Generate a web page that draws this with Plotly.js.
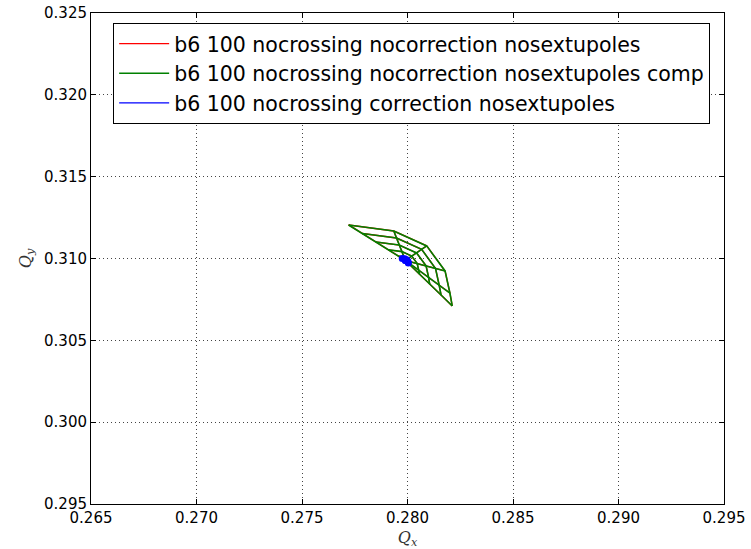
<!DOCTYPE html>
<html>
<head>
<meta charset="utf-8">
<script src="https://cdn.plot.ly/plotly-3.0.1.min.js"></script>
<style>html,body{margin:0;padding:0;background:#fff;}#chart{width:751px;height:549px;}</style>
</head>
<body>
<div id="chart"></div>
<script>
// Series names
const seriesNames = [
  "b6 100 nocrossing nocorrection nosextupoles",
  "b6 100 nocrossing nocorrection nosextupoles comp",
  "b6 100 nocrossing correction nosextupoles"
];

// Footprint origin (small amplitude tune)
const originQx = 0.27990;
const originQy = 0.30988;

// Footprint mesh: each amplitude ring, points across 6 angles
const qxRing1 = [0.27958, 0.27983, 0.28002, 0.28013, 0.28015, 0.28017];
const qyRing1 = [0.31014, 0.31010, 0.30999, 0.30980, 0.30964, 0.30955];
const qxRing2 = [0.27909, 0.27974, 0.28020, 0.28046, 0.28053, 0.28057];
const qyRing2 = [0.31053, 0.31042, 0.31015, 0.30969, 0.30928, 0.30905];
const qxRing3 = [0.27850, 0.27961, 0.28043, 0.28088, 0.28100, 0.28105];
const qyRing3 = [0.31101, 0.31082, 0.31034, 0.30955, 0.30885, 0.30843];
const qxRing4 = [0.27786, 0.27948, 0.28067, 0.28133, 0.28150, 0.28159];
const qyRing4 = [0.31153, 0.31125, 0.31056, 0.30939, 0.30837, 0.30777];
const qxRing5 = [0.27721, 0.27935, 0.28091, 0.28178, 0.28201, 0.28212];
const qyRing5 = [0.31205, 0.31168, 0.31077, 0.30924, 0.30789, 0.30710];

// Corrected case: tiny footprint
const qxCorr = [0.27990, 0.27975, 0.27987, 0.27996, 0.28001, 0.28003, 0.28004, 0.27990];
const qyCorr = [0.30988, 0.31000, 0.30998, 0.30992, 0.30984, 0.30977, 0.30972, 0.30988];

// Axis ticks
const tickVals = [0.265, 0.270, 0.275, 0.280, 0.285, 0.290, 0.295];
const yTickVals = [0.295, 0.300, 0.305, 0.310, 0.315, 0.320, 0.325];

function buildMesh() {
  const rx = [qxRing1, qxRing2, qxRing3, qxRing4, qxRing5];
  const ry = [qyRing1, qyRing2, qyRing3, qyRing4, qyRing5];
  const xs = [], ys = [];
  const nA = qxRing1.length;
  for (let j = 0; j < nA; j++) {
    xs.push(originQx); ys.push(originQy);
    for (let i = 0; i < rx.length; i++) { xs.push(rx[i][j]); ys.push(ry[i][j]); }
    xs.push(null); ys.push(null);
  }
  for (let i = 0; i < rx.length; i++) {
    for (let j = 0; j < nA; j++) { xs.push(rx[i][j]); ys.push(ry[i][j]); }
    xs.push(null); ys.push(null);
  }
  return {xs, ys};
}
const mesh = buildMesh();

const traces = [
  {x: mesh.xs, y: mesh.ys, mode: 'lines', name: seriesNames[0],
   line: {color: '#ff0000', width: 1.4}, connectgaps: false},
  {x: mesh.xs, y: mesh.ys, mode: 'lines', name: seriesNames[1],
   line: {color: '#008000', width: 1.6}, connectgaps: false},
  {x: qxCorr, y: qyCorr, mode: 'lines', name: seriesNames[2],
   line: {color: '#0000ff', width: 1.2}},
  {x: qxCorr, y: qyCorr, mode: 'markers', showlegend: false, hoverinfo: 'skip',
   marker: {color: '#0000ff', size: 7, line: {width: 0}}}
];

const axisCommon = {
  showline: true, linecolor: '#000', linewidth: 1, mirror: 'ticks',
  ticks: 'inside', ticklen: 5, tickwidth: 1, tickcolor: '#000',
  showgrid: true, gridcolor: '#444', gridwidth: 1, griddash: '1px,3px',
  zeroline: false,
  tickfont: {family: 'DejaVu Sans', size: 15, color: '#000'}
};

const layout = {
  width: 751, height: 549,
  margin: {l: 91, r: 27, t: 13, b: 45},
  paper_bgcolor: '#fff', plot_bgcolor: '#fff',
  showlegend: true,
  legend: {
    x: 0.035, y: 0.98, xanchor: 'left', yanchor: 'top',
    bgcolor: '#fff', bordercolor: '#000', borderwidth: 1,
    font: {family: 'DejaVu Sans', size: 20.5, color: '#000'},
    itemwidth: 50, tracegroupgap: 0
  },
  xaxis: Object.assign({}, axisCommon, {
    range: [0.265, 0.295], tickvals: tickVals, ticktext: tickVals.map(v => v.toFixed(3)),
    title: {text: '<i>Q</i><sub><i>x</i></sub>', font: {family: 'DejaVu Serif', size: 16, color: '#333'}, standoff: 6}
  }),
  yaxis: Object.assign({}, axisCommon, {
    range: [0.295, 0.325], tickvals: yTickVals, ticktext: yTickVals.map(v => v.toFixed(3)),
    title: {text: '<i>Q</i><sub><i>y</i></sub>', font: {family: 'DejaVu Serif', size: 16, color: '#333'}, standoff: 8}
  })
};

Plotly.newPlot('chart', traces, layout, {displayModeBar: false, staticPlot: true});
</script>
</body>
</html>
